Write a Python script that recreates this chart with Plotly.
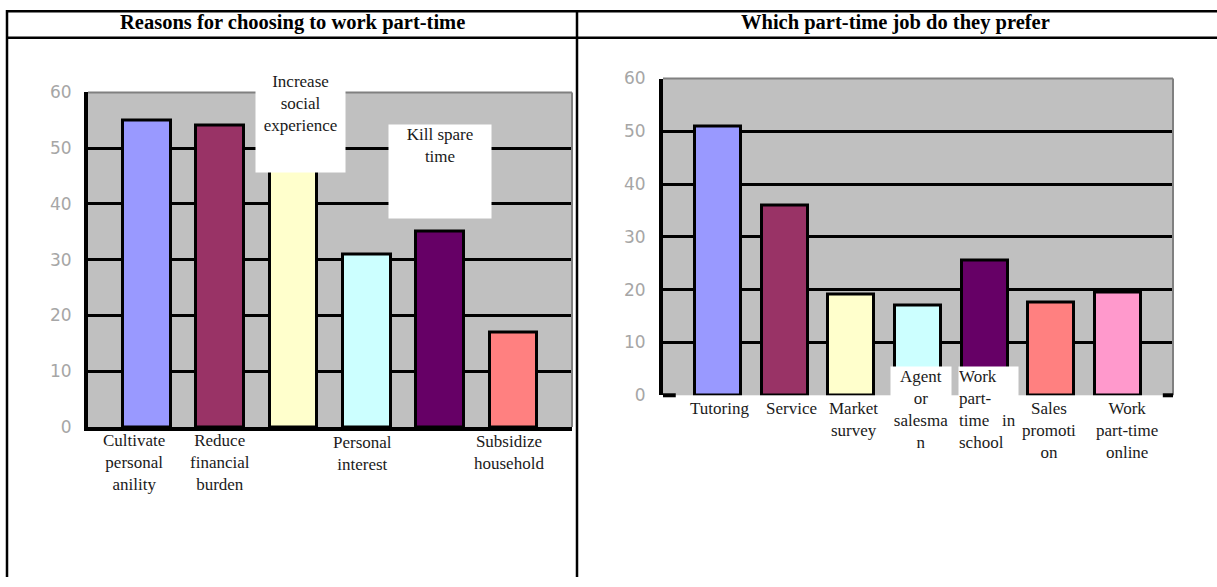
import plotly.graph_objects as go

W, H = 1217, 587

# ---- data -------------------------------------------------------------
reason_labels = ["Cultivate personal anility", "Reduce financial burden",
                 "Increase social experience", "Personal interest",
                 "Kill spare time", "Subsidize household"]
reason_values = [55, 54, 52, 31, 35, 17]
reason_ticktext = ["Cultivate<br>personal<br>anility", "Reduce<br>financial<br>burden",
                   "Increase<br>social<br>experience", "Personal<br>interest",
                   "Kill spare<br>time", "Subsidize<br>household"]

job_labels = ["Tutoring", "Service", "Market survey", "Agent or salesman",
              "Work part-time in school", "Sales promotion", "Work part-time online"]
job_values = [51, 36, 19, 17, 25.6, 17.6, 19.5]
job_ticktext = ["Tutoring", "Service", "Market<br>survey", "Agent<br>or<br>salesma<br>n",
                "Work<br>part-<br>time\u00a0\u00a0 in<br>school", "Sales<br>promoti<br>on",
                "Work<br>part-time<br>online"]

y_ticks = [0, 10, 20, 30, 40, 50, 60]

titles = ["Reasons for choosing to work part-time", "Which part-time job do they prefer"]

palette = ["#9999FF", "#993366", "#FFFFCC", "#CCFFFF", "#660066", "#FF8080", "#FF99CC"]


def fx(px):
    return px / W


def fy(py):
    # vertical pixel position -> paper fraction
    return min(1.0, 1 - (py - 8) / 571)


SERIF = "Liberation Serif, Times New Roman, serif"
TICK_FONT = dict(family="DejaVu Sans, sans-serif", size=17, color="#a6a6a6")

fig = go.Figure()

fig.add_trace(go.Bar(
    x=reason_labels, y=reason_values, width=0.65,
    marker=dict(color=palette[:len(reason_values)], line=dict(color="black", width=3)),
    xaxis="x", yaxis="y", showlegend=False, hoverinfo="x+y"))

fig.add_trace(go.Bar(
    x=job_labels, y=job_values, width=0.69,
    marker=dict(color=palette[:len(job_values)], line=dict(color="black", width=3)),
    xaxis="x2", yaxis="y2", showlegend=False, hoverinfo="x+y"))

yaxis_common = dict(range=[0, 60], tickvals=y_ticks, showgrid=True, gridcolor="black",
                    gridwidth=3, zeroline=False, showline=True, linecolor="black",
                    linewidth=4, tickfont=TICK_FONT, fixedrange=True, ticks="")

fig.update_layout(
    width=W, height=H,
    margin=dict(l=0, r=0, t=0, b=0),
    paper_bgcolor="white",
    plot_bgcolor="#C0C0C0",
    bargap=0,
    xaxis=dict(domain=[fx(88), fx(572)], range=[-0.8, 5.8], showticklabels=False,
               showgrid=False, zeroline=False, showline=True, linecolor="black",
               linewidth=4, anchor="y", fixedrange=True),
    yaxis=dict(domain=[fy(428), fy(91)], anchor="x", ticklabelstandoff=9, **yaxis_common),
    xaxis2=dict(domain=[fx(663), fx(1173)], range=[-0.825, 6.825], showticklabels=False,
                showgrid=False, zeroline=False, showline=False, anchor="y2",
                fixedrange=True),
    yaxis2=dict(domain=[fy(396), fy(77)], anchor="x2", ticklabelstandoff=10, **yaxis_common),
)

shapes = []
# plot-area frame: grey top and right edges
for xr, yr in (("x domain", "y domain"), ("x2 domain", "y2 domain")):
    shapes.append(dict(type="line", xref=xr, yref=yr, x0=0, x1=1, y0=1, y1=1,
                       line=dict(color="#808080", width=2), layer="above"))
    shapes.append(dict(type="line", xref=xr, yref=yr, x0=1, x1=1, y0=0, y1=1,
                       line=dict(color="#808080", width=2), layer="above"))
# short pieces of the right chart's base line left uncovered by the labels
for a, b in ((0, 0.025), (0.98, 1.0)):
    shapes.append(dict(type="line", xref="x2 domain", yref="y2 domain", x0=a, x1=b,
                       y0=0, y1=0, line=dict(color="black", width=4), layer="above"))

# table rules
rule = dict(color="black", width=2.5)
top_rule = fy(9.3)
shapes += [
    dict(type="line", xref="paper", yref="paper", x0=fx(6), x1=1, y0=top_rule, y1=top_rule, line=rule),
    dict(type="line", xref="paper", yref="paper", x0=fx(6), x1=1, y0=fy(36), y1=fy(36), line=rule),
    dict(type="line", xref="paper", yref="paper", x0=fx(7), x1=fx(7), y0=1, y1=0, line=rule),
    dict(type="line", xref="paper", yref="paper", x0=fx(577), x1=fx(577), y0=1, y1=0, line=rule),
]
fig.update_layout(shapes=shapes)

annotations = []
for t, cx in zip(titles, (292, 895)):
    annotations.append(dict(text=f"<b>{t}</b>", xref="paper", yref="paper", x=fx(cx),
                            y=fy(21), xanchor="center", yanchor="middle", showarrow=False,
                            font=dict(family=SERIF, size=20.5, color="black")))

LABEL_FONT = dict(family=SERIF, size=17, color="#1a1a1a")

# left chart category labels (index, xshift, yshift)
for i, dx, dy in ((0, -13, -3), (1, 0, -3), (3, -4, -5), (5, -4, -4)):
    annotations.append(dict(text=reason_ticktext[i], xref="x", yref="y domain",
                            x=reason_labels[i], y=0, xanchor="center", yanchor="top",
                            xshift=dx, yshift=dy, showarrow=False, font=LABEL_FONT,
                            borderpad=0))
# boxed labels floating over the left chart
annotations.append(dict(text=reason_ticktext[2], xref="x", yref="y domain",
                        x=reason_labels[2], y=1, xanchor="center", yanchor="top",
                        xshift=7, yshift=21, width=89, height=100, valign="top",
                        bgcolor="white", showarrow=False, font=LABEL_FONT, borderpad=0))
annotations.append(dict(text=reason_ticktext[4], xref="x", yref="y domain",
                        x=reason_labels[4], y=1, xanchor="center", yanchor="top",
                        xshift=0, yshift=-32, width=102, height=93, valign="top",
                        bgcolor="white", showarrow=False, font=LABEL_FONT, borderpad=0))

# right chart category labels
for i, dx in ((0, 1), (1, 7), (2, 2), (5, -2), (6, 9)):
    annotations.append(dict(text=job_ticktext[i], xref="x2", yref="y2 domain",
                            x=job_labels[i], y=0, xanchor="center", yanchor="top",
                            xshift=dx, yshift=-3, showarrow=False, font=LABEL_FONT,
                            borderpad=0))
# labels drawn in white boxes overlapping the base of their bars
annotations.append(dict(text=job_ticktext[3], xref="x2", yref="y2 domain",
                        x=job_labels[3], y=0, xanchor="center", yanchor="top",
                        xshift=3, yshift=29, width=60, height=90, valign="top",
                        align="center", bgcolor="white", showarrow=False,
                        font=LABEL_FONT, borderpad=0))
annotations.append(dict(text=job_ticktext[4], xref="x2", yref="y2 domain",
                        x=job_labels[4], y=0, xanchor="center", yanchor="top",
                        xshift=4, yshift=29, width=59, height=94, valign="top",
                        align="left", bgcolor="white", showarrow=False,
                        font=LABEL_FONT, borderpad=0))

fig.update_layout(annotations=annotations)

fig.write_html("out.html")
